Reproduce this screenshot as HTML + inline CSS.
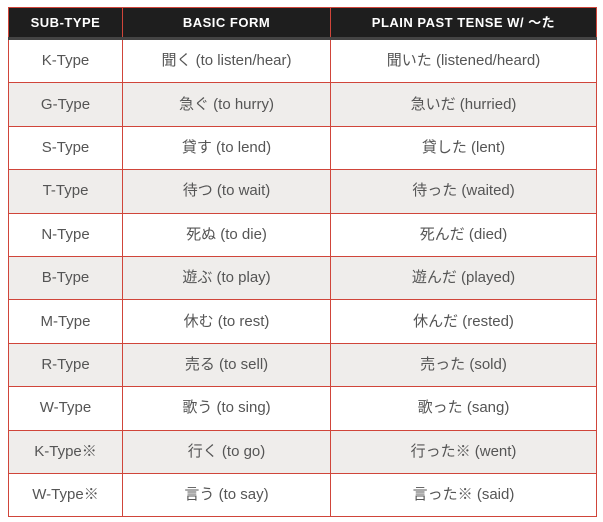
<!DOCTYPE html>
<html><head><meta charset="utf-8"><style>
body{margin:0;background:#fff;width:603px;height:522px;overflow:hidden}
table{position:absolute;left:8px;top:7px;border-collapse:collapse;width:589px;font-family:"Liberation Sans","Noto Sans CJK JP",sans-serif}
th{background:#1e1e1e;color:#fff;font-size:13px;font-weight:bold;letter-spacing:0.5px;height:29px;border:1px solid #d0453a;border-bottom:3px solid #444;padding:0;line-height:16px}
td{border:1px solid #d0453a;text-align:center;color:#555;font-size:15px;height:42.4px;padding:0;line-height:18px;vertical-align:middle}
tr.alt td{background:#efedeb}
</style></head><body>
<table>
<thead><tr>
<th style="width:113px">SUB-TYPE</th>
<th style="width:207px">BASIC FORM</th>
<th>PLAIN PAST TENSE W/ ～た</th></tr></thead>
<tbody>
<tr><td>K-Type</td><td>聞く (to listen/hear)</td><td>聞いた (listened/heard)</td></tr>
<tr class="alt"><td>G-Type</td><td>急ぐ (to hurry)</td><td>急いだ (hurried)</td></tr>
<tr><td>S-Type</td><td>貸す (to lend)</td><td>貸した (lent)</td></tr>
<tr class="alt"><td>T-Type</td><td>待つ (to wait)</td><td>待った (waited)</td></tr>
<tr><td>N-Type</td><td>死ぬ (to die)</td><td>死んだ (died)</td></tr>
<tr class="alt"><td>B-Type</td><td>遊ぶ (to play)</td><td>遊んだ (played)</td></tr>
<tr><td>M-Type</td><td>休む (to rest)</td><td>休んだ (rested)</td></tr>
<tr class="alt"><td>R-Type</td><td>売る (to sell)</td><td>売った (sold)</td></tr>
<tr><td>W-Type</td><td>歌う (to sing)</td><td>歌った (sang)</td></tr>
<tr class="alt"><td>K-Type※</td><td>行く (to go)</td><td>行った※ (went)</td></tr>
<tr><td>W-Type※</td><td>言う (to say)</td><td>言った※ (said)</td></tr>
</tbody></table>
</body></html>
